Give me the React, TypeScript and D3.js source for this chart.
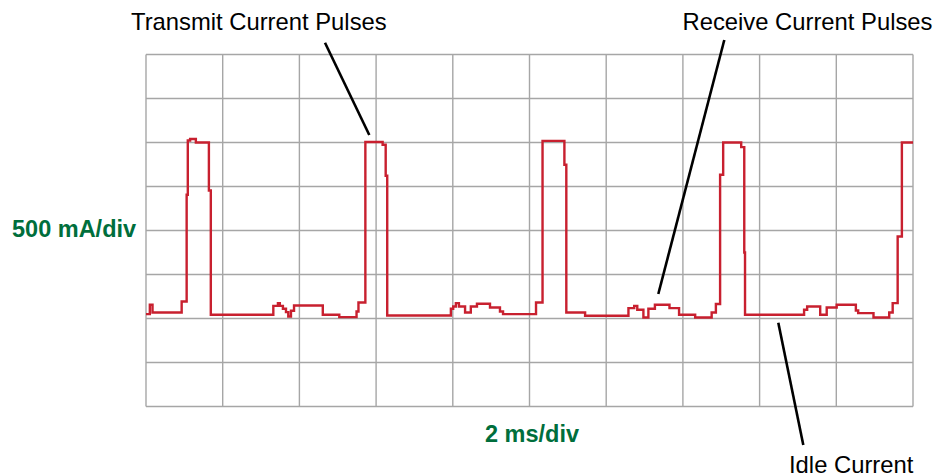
import React from "react";
import * as d3 from "d3";

// time (ms) at which each level starts, and current (mA) held until next time
const times = [
  0, 0.1, 0.17, 0.93, 1.06, 1.09, 1.15, 1.3, 1.64, 1.69,
  3.32, 3.44, 3.49, 3.57, 3.65, 3.71, 3.78, 3.86, 4.61, 5.04, 5.49, 5.54,
  5.72, 6.17, 6.25, 6.29,
  7.95, 8.01, 8.08, 8.16, 8.32, 8.47, 8.63, 8.97, 9.23, 9.31, 10.17,
  10.34, 10.91, 10.96, 11.45,
  12.58, 12.73, 12.81, 12.97, 13.1, 13.27, 13.65, 13.9, 14.32, 14.75, 14.86,
  14.97, 15.05, 15.52, 15.6, 15.62,
  17.16, 17.24, 17.58, 17.75, 18.01, 18.51, 18.57, 18.97, 19.38, 19.47,
  19.6, 19.71, 20,
];
const currents = [
  1050, 1156, 1068, 1193, 2406, 3023, 3039, 3000, 2455, 1042,
  1144, 1175, 1144, 1110, 1073, 1023, 1088, 1148, 1042, 1016, 1080, 1182,
  3005, 2974, 2622, 1034,
  1110, 1136, 1175, 1136, 1068, 1136, 1167, 1125, 1080, 1050, 1182,
  3019, 2747, 1068, 1031,
  1118, 1144, 1099, 1011, 1110, 1156, 1118, 1042, 1011, 1068, 1164,
  2633, 3000, 2948, 1750, 1042,
  1099, 1136, 1042, 1125, 1156, 1091, 1061, 1011, 1068, 1175,
  1932, 3000, 3000,
];

const xTicks = d3.range(0, 20.001, 2);
const yTicks = d3.range(0, 4000.001, 500);

const annotations = [
  { label: "Transmit Current Pulses", tx: 131, ty: 30, x1: 325, y1: 42.7, x2: 369.3, y2: 135 },
  { label: "Receive Current Pulses", tx: 682.5, ty: 30, x1: 724.3, y1: 40, x2: 658.3, y2: 294 },
  { label: "Idle Current", tx: 789, ty: 472.5, x1: 778.3, y1: 322.7, x2: 803.3, y2: 445 },
];

export default function App() {
  const W = 943, H = 476;
  const left = 146, right = 913, top = 54.5, bottom = 406.5;
  const x = d3.scaleLinear().domain([0, 20]).range([left, right]);
  const y = d3.scaleLinear().domain([0, 4000]).range([bottom, top]);
  const pts: [number, number][] = times.map((t, i) => [t, currents[i]]);
  const line = d3
    .line<[number, number]>()
    .x((d) => x(d[0]))
    .y((d) => y(d[1]))
    .curve(d3.curveStepAfter);
  const font = "Liberation Sans, Arial, sans-serif";
  return (
    <svg
      width={W}
      height={H}
      style={{ position: "absolute", left: 0, top: 0, background: "#fff" }}
      fontFamily={font}
    >
      <g stroke="#a6a6a6" strokeWidth={1.4}>
        {xTicks.map((t) => (
          <line key={"x" + t} x1={x(t)} x2={x(t)} y1={top} y2={bottom} />
        ))}
        {yTicks.map((t) => (
          <line key={"y" + t} x1={left} x2={right} y1={y(t)} y2={y(t)} />
        ))}
      </g>
      <path d={line(pts) || ""} fill="none" stroke="#c8202f" strokeWidth={2.4} strokeLinejoin="miter" />
      {annotations.map((a) => (
        <g key={a.label}>
          <line x1={a.x1} y1={a.y1} x2={a.x2} y2={a.y2} stroke="#000" strokeWidth={2.6} />
          <text x={a.tx} y={a.ty} fontSize={23.8} fill="#000">
            {a.label}
          </text>
        </g>
      ))}
      <text x={485} y={442} fontSize={23.5} fontWeight="bold" fill="#006e3c">
        2 ms/div
      </text>
      <text x={12} y={237} fontSize={23.5} fontWeight="bold" fill="#006e3c">
        500 mA/div
      </text>
    </svg>
  );
}
